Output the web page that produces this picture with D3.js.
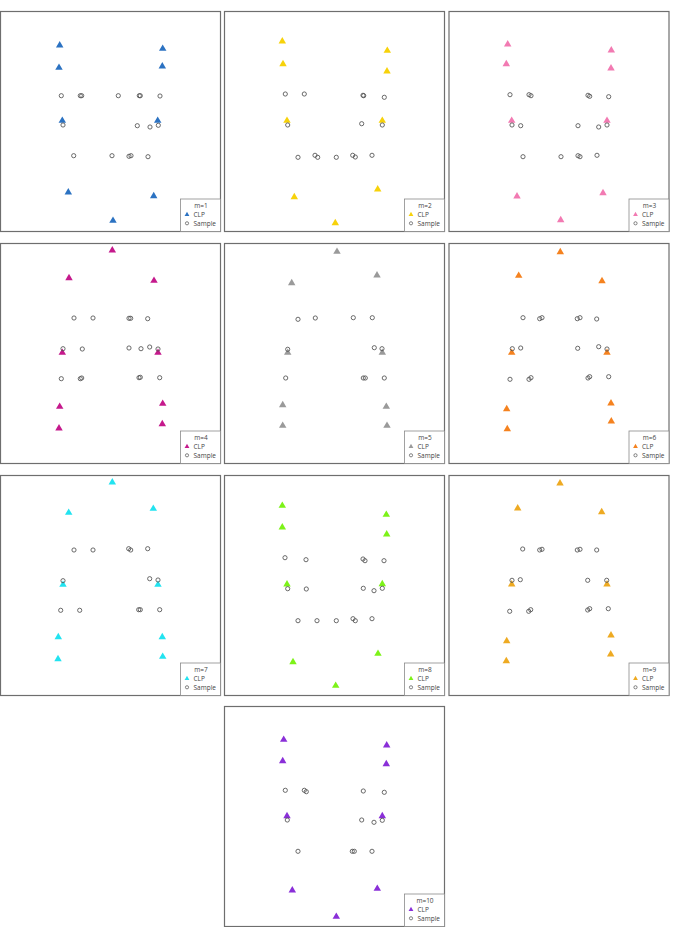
<!DOCTYPE html>
<html>
<head>
<meta charset="utf-8">
<script src="https://cdn.jsdelivr.net/npm/d3@7"></script>
<style>
  html, body { margin: 0; padding: 0; background: #fff; }
  svg { display: block; }
</style>
</head>
<body>
<div id="chart"></div>
<script>
// ── Data (panel-local coordinates, 0–220 on both axes, y downward) ────────
const labels = ['m=1', 'm=2', 'm=3', 'm=4', 'm=5', 'm=6', 'm=7', 'm=8', 'm=9', 'm=10'];
const colors = ['#2b72c2', '#f7d20a', '#f27ab2', '#c5198c', '#9a9a9a',
                '#f5821f', '#22e3f0', '#7df218', '#eeaa22', '#8a2fd8'];

const clpPoints = [
  [[59.2,33.8],[162.2,37.2],[58.5,56.2],[161.8,54.8],[61.8,109.2],[157.2,109.2],[67.8,180.8],[153.2,184.5],[112.5,209.2]],
  [[57.8,29.8],[162.8,39.2],[58.5,52.5],[162.5,59.8],[62.5,109.2],[157.8,109.2],[69.8,185.5],[153.2,177.8],[110.8,211.5]],
  [[58.7,32.8],[162.3,38.8],[57.3,52.5],[162,56.8],[62.7,109.2],[158,109.2],[68,184.8],[154,181.5],[111.7,208.5]],
  [[111.8,6.8],[68.5,34.5],[153.5,37.2],[61.8,109.2],[157.5,109.2],[59.2,163.2],[162.2,160.2],[58.5,184.8],[161.8,180.5]],
  [[112.5,8.2],[67.2,39.5],[152.5,31.8],[63.2,109.2],[157.8,109.2],[58.2,161.5],[161.8,163.2],[58.2,182.2],[162.5,182.2]],
  [[111.3,8.5],[69.7,32.2],[153,37.5],[62.7,109.2],[158,109.2],[57.7,165.5],[162,159.8],[58.3,185.5],[162.3,177.8]],
  [[111.8,6.8],[68.2,37.2],[152.8,33.2],[62.5,109.2],[157.5,109.2],[57.8,161.5],[161.8,161.5],[57.5,183.5],[162.2,181.2]],
  [[57.8,30.2],[161.8,39.2],[57.8,51.8],[162.2,58.8],[62.5,108.8],[157.8,108.5],[68.5,186.5],[153.5,178.2],[111.2,210.2]],
  [[111,7.8],[68.7,32.8],[152.7,36.5],[62.7,108.8],[158,108.8],[57.7,165.5],[162,159.8],[57.3,185.5],[161.7,178.8]],
  [[59.2,33.2],[162.2,38.8],[58.2,54.5],[161.8,57.5],[62.5,109.5],[157.8,109.5],[67.8,183.8],[152.8,182.2],[111.8,210.2]]
];

const samplePoints = [
  [[60.8,84.2],[79.8,84.2],[81.2,84.2],[117.8,84.2],[138.8,84.2],[139.8,84.2],[159.5,84.5],
   [62.5,113.5],[136.8,114.2],[149.5,115.5],[157.8,113.8],
   [73.2,144.2],[111.5,144.2],[128.5,144.8],[130.5,144.2],[147.5,145.2]],
  [[60.8,82.5],[79.8,82.5],[138.5,83.8],[139.2,84.2],[159.8,85.8],
   [63.2,113.5],[137.2,112.2],[157.8,113.5],
   [73.5,145.8],[90.5,143.8],[93.2,145.8],[111.8,145.8],[128.2,143.8],[130.8,145.5],[147.5,143.8]],
  [[61,83.2],[80,83.2],[82,84.2],[139,83.8],[140.7,84.8],[159.7,85.2],
   [63,113.5],[71.7,114.2],[129,114.2],[149.7,115.5],[158,113.5],
   [74,145.2],[112,145.2],[129,144.2],[131,145.2],[148,143.8]],
  [[73.5,74.5],[92.5,74.5],[128.5,74.8],[130.2,74.8],[147.2,75.2],
   [62.5,105.2],[81.8,105.5],[128.5,104.5],[140.5,105.2],[149.2,103.5],[157.5,105.5],
   [60.8,135.2],[79.8,135.2],[81.2,134.5],[138.5,134.2],[139.8,133.8],[159.2,134.2]],
  [[73.5,75.8],[90.8,74.5],[128.8,74.2],[147.8,74.2],
   [63.2,105.8],[149.8,104.2],[157.5,105.2],
   [61.2,134.5],[138.8,134.5],[140.8,134.5],[159.8,134.5]],
  [[74,74.2],[90.7,75.2],[93,74.2],[128.3,75.2],[131,74.2],[147.7,75.5],
   [63.3,105.2],[71.7,104.5],[128.7,104.8],[149.7,103.2],[158,105.5],
   [61,135.8],[80,135.8],[82,134.2],[139,134.5],[140.7,133.2],[159.7,133.2]],
  [[73.5,74.5],[92.5,74.5],[128.2,73.2],[130.2,74.5],[147.2,73.2],
   [62.5,105.2],[149.2,103.2],[157.5,104.5],
   [60.2,134.8],[79.2,134.8],[138.2,134.2],[139.8,134.2],[159.2,134.2]],
  [[60.5,82.2],[81.5,84.2],[138.5,83.5],[140.5,85.2],[159.5,85.2],
   [63.2,113.2],[81.8,113.5],[138.8,112.8],[149.5,115.2],[157.8,112.8],
   [73.5,145.2],[92.5,145.2],[111.8,145.2],[128.5,143.2],[130.8,145.2],[147.5,143.2]],
  [[73.7,73.5],[90.7,74.5],[93,73.8],[128.3,74.5],[131,73.8],[147.7,74.5],
   [63,104.8],[71.3,104.2],[138.7,104.8],[157.7,104.8],
   [60.7,135.8],[79.7,135.8],[81.7,134.2],[138.7,134.5],[140.7,133.2],[159.3,133.2]],
  [[60.8,83.8],[79.8,83.8],[81.8,85.2],[138.8,84.5],[159.8,85.8],
   [62.8,113.5],[137.2,113.5],[149.5,115.8],[157.8,113.8],
   [73.5,144.8],[127.8,144.8],[129.8,144.8],[147.5,144.8]]
];

// ── Layout ──────────────────────────────────────────────────────────────
const W = 675, H = 927;
const panelSize = 220;
const panelX = [0.5, 224.5, 449, 0.5, 224.5, 449, 0.5, 224.5, 449, 224.5];
const panelY = [11.5, 11.5, 11.5, 243.5, 243.5, 243.5, 475.5, 475.5, 475.5, 706.5];
const font = 'Open Sans, DejaVu Sans, sans-serif';

const svg = d3.select('#chart').append('svg')
  .attr('width', W).attr('height', H);

const x = d3.scaleLinear().domain([0, 220]).range([0, panelSize]);
const y = d3.scaleLinear().domain([0, 220]).range([0, panelSize]);

const tri = d3.symbol(d3.symbolTriangle).size(24);

labels.forEach((lab, i) => {
  const g = svg.append('g')
    .attr('transform', `translate(${panelX[i]},${panelY[i]})`);

  // frame
  g.append('rect')
    .attr('width', panelSize).attr('height', panelSize)
    .attr('fill', '#fff')
    .attr('stroke', '#6e6e6e')
    .attr('stroke-width', 1.2);

  // CLP triangles
  g.selectAll('path.clp')
    .data(clpPoints[i])
    .join('path')
      .attr('class', 'clp')
      .attr('d', tri)
      .attr('transform', d => `translate(${x(d[0])},${y(d[1])})`)
      .attr('fill', colors[i]);

  // samples
  g.selectAll('circle.sample')
    .data(samplePoints[i])
    .join('circle')
      .attr('class', 'sample')
      .attr('cx', d => x(d[0]))
      .attr('cy', d => y(d[1]))
      .attr('r', 2.1)
      .attr('fill', 'none')
      .attr('stroke', '#505050')
      .attr('stroke-width', 0.85);

  // legend
  const lg = g.append('g').attr('transform', `translate(${panelSize - 40},${panelSize - 32.5})`);
  lg.append('rect')
    .attr('width', 40).attr('height', 32.5)
    .attr('fill', '#fff')
    .attr('stroke', '#8a8a8a')
    .attr('stroke-width', 0.8);
  lg.append('text')
    .attr('x', 20.5).attr('y', 9)
    .attr('text-anchor', 'middle')
    .attr('font-family', font)
    .attr('font-size', 6.5)
    .attr('fill', '#444')
    .text(lab);
  lg.append('path')
    .attr('d', d3.symbol(d3.symbolTriangle).size(10))
    .attr('transform', 'translate(6.5,15.5)')
    .attr('fill', colors[i]);
  lg.append('text')
    .attr('x', 13).attr('y', 17.8)
    .attr('font-family', font)
    .attr('font-size', 6.5)
    .attr('fill', '#444')
    .text('CLP');
  lg.append('circle')
    .attr('cx', 6.5).attr('cy', 24.3).attr('r', 1.6)
    .attr('fill', 'none')
    .attr('stroke', '#505050')
    .attr('stroke-width', 0.7);
  lg.append('text')
    .attr('x', 13).attr('y', 26.5)
    .attr('font-family', font)
    .attr('font-size', 6.5)
    .attr('fill', '#444')
    .text('Sample');
});
</script>
</body>
</html>
